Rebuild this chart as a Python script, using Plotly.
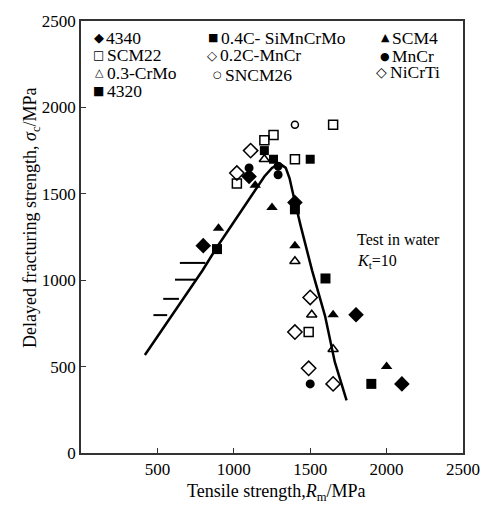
import plotly.graph_objects as go

# ---------------- data ----------------
s4340_x = [800, 1100, 1400, 1800, 2100]
s4340_y = [1200, 1600, 1450, 800, 400]

sSiMnCrMo_x = [1200, 1260, 1500]
sSiMnCrMo_y = [1750, 1700, 1700]

sSCM4_x = [900, 1140, 1250, 1400, 1650, 2000]
sSCM4_y = [1300, 1550, 1420, 1200, 800, 500]

sSCM22_x = [1020, 1200, 1260, 1400, 1650, 1490]
sSCM22_y = [1560, 1810, 1840, 1700, 1900, 700]

sMnCr02_x = [1500, 1400, 1490, 1650]
sMnCr02_y = [900, 700, 490, 400]

sMnCr_x = [1100, 1290, 1290, 1500]
sMnCr_y = [1650, 1660, 1610, 400]

sCrMo_x = [1200, 1400, 1510, 1650]
sCrMo_y = [1700, 1110, 800, 600]

sSNCM26_x = [1400]
sSNCM26_y = [1900]

sNiCrTi_x = [1020, 1110]
sNiCrTi_y = [1620, 1750]

s4320_x = [890, 1400, 1600, 1900]
s4320_y = [1180, 1410, 1010, 400]

curve_x = [418, 600, 795, 885, 1000, 1140, 1200, 1250, 1300, 1340, 1365, 1385,
           1436, 1513, 1597, 1661, 1738]
curve_y = [567, 805, 1056, 1185, 1335, 1520, 1600, 1650, 1675, 1650, 1590, 1510,
           1320, 1054, 794, 527, 305]

# short horizontal threshold marks (x start, x end, y)
dash_x0 = [647, 615, 538, 474]
dash_x1 = [814, 750, 641, 564]
dash_y = [1100, 1003, 892, 798]

x_ticks = [500, 1000, 1500, 2000, 2500]
y_ticks = [0, 500, 1000, 1500, 2000, 2500]

legend_names = ["4340", "0.4C- SiMnCrMo", "SCM4",
                "SCM22", "0.2C-MnCr", "MnCr",
                "0.3-CrMo", "SNCM26", "NiCrTi",
                "4320"]
legend_glyphs = ["◆", "■", "▲", "□", "◇", "●", "△", "○", "◇", "■"]

# ---------------- layout constants ----------------
W, H = 492, 509
L, R, T, B = 81, 21, 12, 56
PW, PH = W - L - R, H - T - B
SERIF = "Liberation Serif, Times New Roman, serif"


def px(X):
    return (X - L) / PW


def py(Y):
    return (H - B - Y) / PH


fig = go.Figure()

# curve
fig.add_trace(go.Scatter(x=curve_x, y=curve_y, mode="lines",
                         line=dict(color="black", width=2.5), showlegend=False,
                         hoverinfo="skip"))
# dashes
dx, dy = [], []
for a, b, c in zip(dash_x0, dash_x1, dash_y):
    dx += [a, b, None]
    dy += [c, c, None]
fig.add_trace(go.Scatter(x=dx, y=dy, mode="lines",
                         line=dict(color="black", width=2), showlegend=False,
                         hoverinfo="skip"))

series = [
    (s4340_x, s4340_y, "diamond", 12, "black", 0),
    (sSiMnCrMo_x, sSiMnCrMo_y, "square", 9, "black", 0),
    (sSCM4_x, sSCM4_y, "triangle-up", 10, "black", 0),
    (sSCM22_x, sSCM22_y, "square-open", 9, "black", 1.5),
    (sMnCr02_x, sMnCr02_y, "diamond-open", 11, "black", 1.5),
    (sMnCr_x, sMnCr_y, "circle", 9, "black", 0),
    (sCrMo_x, sCrMo_y, "triangle-up-open", 9, "black", 1.5),
    (sSNCM26_x, sSNCM26_y, "circle-open", 7, "black", 1.5),
    (sNiCrTi_x, sNiCrTi_y, "diamond-open", 11, "black", 1.5),
    (s4320_x, s4320_y, "square", 10, "black", 0),
]
for (xs, ys, sym, sz, col, lw), name in zip(series, legend_names):
    fig.add_trace(go.Scatter(x=xs, y=ys, mode="markers", name=name,
                             marker=dict(symbol=sym, size=sz, color=col,
                                         line=dict(color=col, width=lw)),
                             showlegend=False))

ann = []
# legend (text-based)
leg_txt_x = [106, 223, 398, 107, 222, 398, 107, 227, 395, 107]
leg_y = [29, 29, 29, 47, 47, 48, 65, 67, 64, 83]
leg_sym_size = [13, 11, 11, 12, 13, 11, 11, 10, 14, 12]
for g, n, tx, yy, ss in zip(legend_glyphs, legend_names, leg_txt_x, leg_y,
                            leg_sym_size):
    ann.append(dict(x=px(tx - 1), y=py(yy), xref="paper", yref="paper", text=g,
                    showarrow=False, xanchor="right", yanchor="middle",
                    borderpad=0,
                    font=dict(family="DejaVu Sans", size=ss, color="black")))
    ann.append(dict(x=px(tx), y=py(yy), xref="paper", yref="paper", text=n,
                    showarrow=False, xanchor="left", yanchor="middle",
                    borderpad=0,
                    font=dict(family=SERIF, size=17.5, color="black")))

ann.append(dict(x=px(361), y=py(235), xref="paper", yref="paper",
                text="Test in water", showarrow=False, xanchor="left",
                yanchor="middle", font=dict(family=SERIF, size=16, color="black")))
ann.append(dict(x=px(361), y=py(258), xref="paper", yref="paper",
                text="<i>K</i><sub>t</sub>=10", showarrow=False, xanchor="left",
                yanchor="middle", font=dict(family=SERIF, size=16, color="black")))
# axis titles
ann.append(dict(x=px(281), y=py(493), xref="paper", yref="paper",
                text="Tensile strength,<i>R</i><sub>m</sub>/MPa", showarrow=False,
                xanchor="center", yanchor="middle",
                font=dict(family=SERIF, size=18, color="black")))
ann.append(dict(x=px(31), y=py(213), xref="paper", yref="paper",
                text="Delayed fracturing strength, <i>σ</i><sub>c</sub>/MPa",
                showarrow=False, textangle=-90, xanchor="center", yanchor="middle",
                font=dict(family=SERIF, size=18, color="black")))

fig.update_layout(
    width=W, height=H, margin=dict(l=L, r=R, t=T, b=B),
    paper_bgcolor="white", plot_bgcolor="white",
    annotations=ann, showlegend=False,
    font=dict(family=SERIF, size=17, color="black"),
)
fig.update_xaxes(range=[0, 2500], tickvals=x_ticks, ticks="inside", ticklen=5,
                 tickcolor="#333", showgrid=False, zeroline=False, showline=True,
                 linecolor="#333", linewidth=1.5, mirror=True,
                 tickfont=dict(family=SERIF, size=17))
fig.update_yaxes(range=[0, 2500], tickvals=y_ticks, ticks="inside", ticklen=5,
                 tickcolor="#333", showgrid=False, zeroline=False, showline=True,
                 linecolor="#333", linewidth=1.5, mirror=True,
                 tickfont=dict(family=SERIF, size=17))

fig.write_html("out.html")
